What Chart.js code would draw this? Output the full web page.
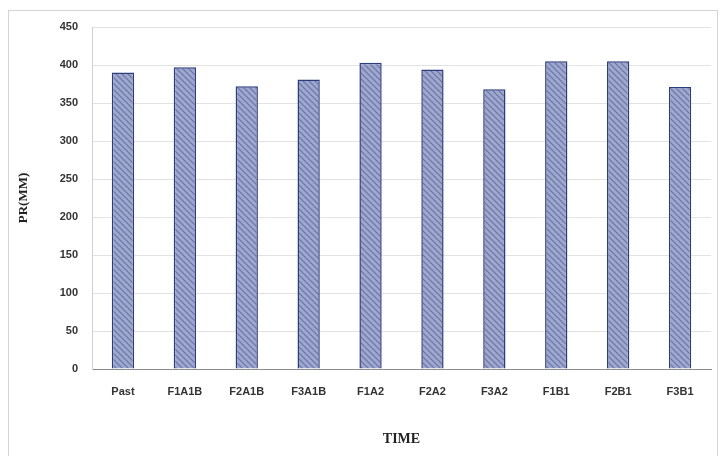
<!DOCTYPE html>
<html>
<head>
<meta charset="utf-8">
<script src="https://cdn.jsdelivr.net/npm/chart.js@4/dist/chart.umd.min.js"></script>
<style>
  html, body { margin: 0; padding: 0; background: #fff; }
  #wrap { position: relative; width: 721px; height: 456px; overflow: hidden; }
  #frame { position: absolute; left: 8px; top: 10px; width: 708px; height: 460px; border: 1px solid #d4d4d4; }
  canvas { position: absolute; left: 0; top: 0; }
</style>
</head>
<body>
<div id="wrap">
  <div id="frame"></div>
  <canvas id="chart" width="721" height="456"></canvas>
</div>
<script>
// data
const categories = ['Past', 'F1A1B', 'F2A1B', 'F3A1B', 'F1A2', 'F2A2', 'F3A2', 'F1B1', 'F2B1', 'F3B1'];
const prValues = [390, 397, 372, 381, 403, 394, 368, 405, 405, 371];
const yTicks = [0, 50, 100, 150, 200, 250, 300, 350, 400, 450];

// hatched fill like the original bars
function makePattern() {
  const p = document.createElement('canvas');
  p.width = 6;
  p.height = 6;
  const c = p.getContext('2d');
  c.fillStyle = '#9ea7d0';
  c.fillRect(0, 0, 6, 6);
  c.strokeStyle = '#6a759f';
  c.lineWidth = 1.2;
  c.beginPath();
  c.moveTo(0, 0); c.lineTo(6, 6);
  c.moveTo(-3, 3); c.lineTo(3, 9);
  c.moveTo(3, -3); c.lineTo(9, 3);
  c.stroke();
  return c.createPattern(p, 'repeat');
}

const ctx = document.getElementById('chart').getContext('2d');

new Chart(ctx, {
  type: 'bar',
  data: {
    labels: categories,
    datasets: [{
      label: 'PR(MM)',
      data: prValues,
      backgroundColor: makePattern(),
      borderColor: '#2c3d7c',
      borderWidth: 1.5,
      barPercentage: 0.36,
      categoryPercentage: 1.0
    }]
  },
  options: {
    responsive: false,
    animation: false,
    layout: { padding: { left: 12, right: 10, top: 27, bottom: 4 } },
    plugins: {
      legend: { display: false },
      tooltip: { enabled: false }
    },
    scales: {
      x: {
        grid: { display: false, drawTicks: false },
        border: { color: '#8c8c8c', width: 1 },
        ticks: {
          padding: 16,
          color: '#333',
          font: { family: 'Liberation Sans', size: 11, weight: 'bold' }
        },
        title: {
          display: true,
          text: 'TIME',
          color: '#222',
          padding: { top: 26 },
          font: { family: 'Liberation Serif', size: 14, weight: 'bold' }
        },
        afterFit: (scale) => { scale.height = 83; }
      },
      y: {
        min: 0,
        max: 450,
        afterBuildTicks: (scale) => { scale.ticks = yTicks.map(v => ({ value: v })); },
        grid: { color: '#e2e2e2', drawTicks: false },
        border: { color: '#d0d0d0', width: 1 },
        ticks: {
          padding: 14,
          color: '#333',
          font: { family: 'Liberation Sans', size: 11, weight: 'bold' }
        },
        title: {
          display: true,
          text: 'PR(MM)',
          color: '#222',
          font: { family: 'Liberation Serif', size: 13, weight: 'bold' }
        },
        afterFit: (scale) => { scale.width = 80; }
      }
    }
  }
});
</script>
</body>
</html>
